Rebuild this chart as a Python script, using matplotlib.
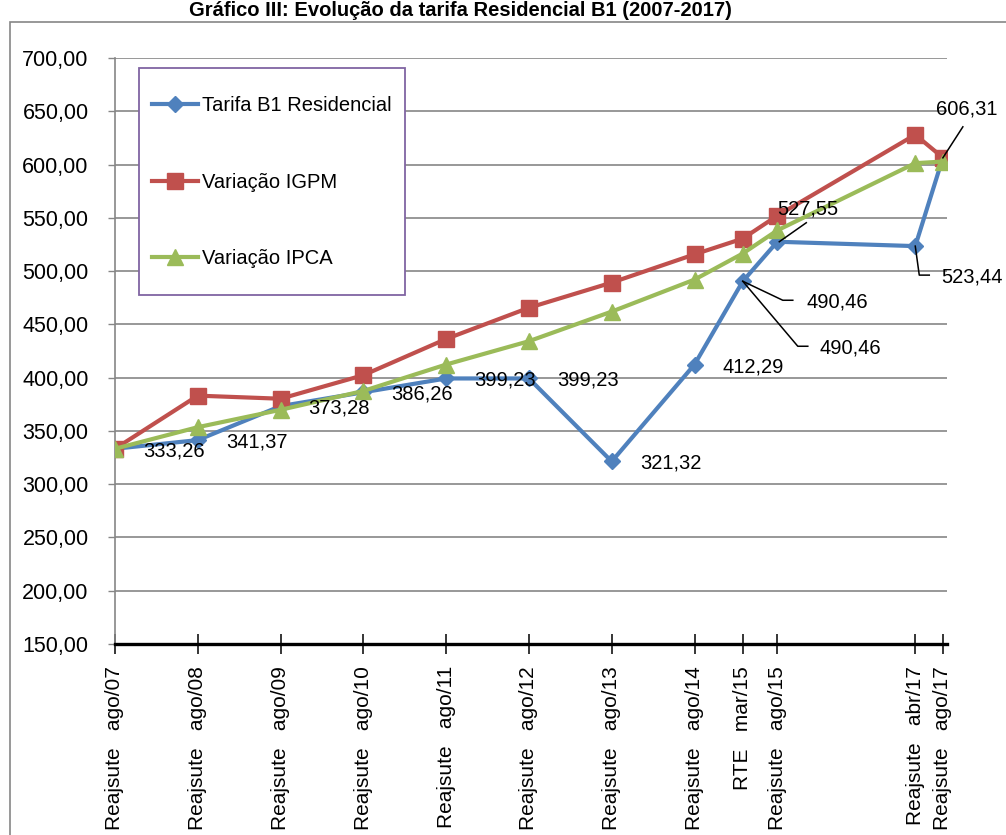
import numpy as np
import matplotlib
matplotlib.use("Agg")
import matplotlib.pyplot as plt
from matplotlib.lines import Line2D
from matplotlib.patches import Rectangle
from matplotlib.transforms import IdentityTransform

plt.rcParams['font.family'] = ['Liberation Sans', 'DejaVu Sans']

# ---- data ----
dates = ["2007-08", "2008-08", "2009-08", "2010-08", "2011-08", "2012-08",
         "2013-08", "2014-08", "2015-03", "2015-08", "2017-04", "2017-08"]
tick_labels = ["Reajsute   ago/07", "Reajsute   ago/08", "Reajsute   ago/09",
               "Reajsute   ago/10", "Reajsute   ago/11", "Reajsute   ago/12",
               "Reajsute   ago/13", "Reajsute   ago/14", "RTE   mar/15",
               "Reajsute   ago/15", "Reajsute   abr/17", "Reajsute   ago/17"]
tarifa = [333.26, 341.37, 373.28, 386.26, 399.23, 399.23, 321.32, 412.29,
          490.46, 527.55, 523.44, 606.31]
igpm = [333.26, 383.1, 380.2, 402.3, 436.3, 465.6, 489.2, 515.7, 530.5,
        552.0, 628.0, 606.5]
ipca = [333.26, 353.5, 369.8, 387.5, 412.3, 434.2, 462.0, 492.0, 516.5,
        538.2, 601.3, 602.8]
series_names = ["Tarifa B1 Residencial", "Variação IGPM", "Variação IPCA"]
title = "Gráfico III: Evolução da tarifa Residencial B1 (2007-2017)"

# month index on a date axis
months = (np.array(dates, dtype="datetime64[M]") -
          np.array(dates[0], dtype="datetime64[M]")).astype(int)

W, H = 1006, 835
fig = plt.figure(figsize=(W / 100, H / 100), dpi=100)
fig.patch.set_facecolor("white")
ax = fig.add_axes([115 / W, 1 - 644 / H, (947 - 115) / W, (644 - 58) / H])

FS = 14.5
blue, red, green = "#4F81BD", "#C0504D", "#9BBB59"
grid_c = "#868686"

ax.set_xlim(0, 120.6)
ax.set_ylim(150, 700)
yt = np.arange(150, 701, 50)
ax.set_yticks(yt)
ax.set_yticklabels([f"{v:.2f}".replace(".", ",") for v in yt], fontsize=15.5)
ax.set_xticks(months)
ax.set_xticklabels(tick_labels, rotation=90, fontsize=15, ha="center", va="top")
ax.yaxis.grid(True, color=grid_c, lw=1.2)
ax.set_axisbelow(True)

for s in ["top", "right"]:
    ax.spines[s].set_visible(False)
ax.spines["left"].set_color(grid_c)
ax.spines["left"].set_linewidth(1.2)
ax.spines["bottom"].set_color("black")
ax.spines["bottom"].set_linewidth(2.4)
ax.tick_params(axis="y", direction="out", length=5, width=1, color=grid_c, pad=14)
ax.tick_params(axis="x", direction="inout", length=14, width=1.1, color="black", pad=9)

lw = 3.0
ax.plot(months, tarifa, color=blue, lw=lw, marker="D", ms=8.5, zorder=3,
        label=series_names[0])
ax.plot(months, igpm, color=red, lw=lw, marker="s", ms=11, zorder=3.1,
        label=series_names[1])
ax.plot(months, ipca, color=green, lw=lw, marker="^", ms=12, zorder=3.2,
        label=series_names[2])

def fmt(v):
    return f"{v:.2f}".replace(".", ",")

# simple data labels (to the right of point), offsets in pixels (dx right, dy down)
for i in range(8):
    ax.annotate(fmt(tarifa[i]), xy=(months[i], tarifa[i]), xytext=(28, -2),
                textcoords="offset pixels", ha="left", va="center",
                fontsize=FS, zorder=6)

# labels with leader lines: (index, text offset, leader path)
leader_labels = [
    (8, (64, 21), [(0, 0), (40, 19), (50, 19)]),
    (8, (77, 67), [(0, 0), (55, 65), (65, 65)]),
    (9, (0, -33), [(2, 0), (29, -19)]),
    (10, (26, 31), [(0, 0), (4, 29), (14, 29)]),
    (11, (-7, -49), [(0, 0), (20, -31)]),
]
for idx, (tx, ty), path in leader_labels:
    ax.annotate(fmt(tarifa[idx]), xy=(months[idx], tarifa[idx]), xytext=(tx, -ty),
                textcoords="offset pixels", ha="left", va="center",
                fontsize=FS, zorder=6)
    p = ax.transData.transform((months[idx], tarifa[idx]))
    xs = [p[0] + dx for dx, dy in path]
    ys = [p[1] - dy for dx, dy in path]
    fig.add_artist(Line2D(xs, ys, color="black", lw=1.1,
                          transform=IdentityTransform(), zorder=6))

# legend frame (white box, purple border)
lx0, ly0, lx1, ly1 = 139, 68, 405, 295
ax.add_patch(Rectangle((lx0 / W, 1 - ly1 / H), (lx1 - lx0) / W, (ly1 - ly0) / H,
                       transform=fig.transFigure, facecolor="white",
                       edgecolor="#8064A2", lw=1.3, zorder=4, clip_on=False))
leg = ax.legend(loc="upper left", bbox_to_anchor=(152 / W, 1 - 96 / H),
                bbox_transform=fig.transFigure, frameon=False, fontsize=FS,
                borderpad=0, borderaxespad=0, handlelength=2.3,
                handletextpad=0.2, labelspacing=2.86)
leg.set_zorder(5)

# outer chart border
fig.add_artist(Rectangle((10 / W, -0.1), 1.2, 1.1 - 22 / H,
                         transform=fig.transFigure, fill=False,
                         edgecolor=grid_c, lw=1.2))

# title at the very top
fig.text(460 / W, 1 - 16 / H, title, ha="center", va="baseline",
         fontsize=14.5, fontweight="bold")

fig.savefig("out.png", dpi=100)
